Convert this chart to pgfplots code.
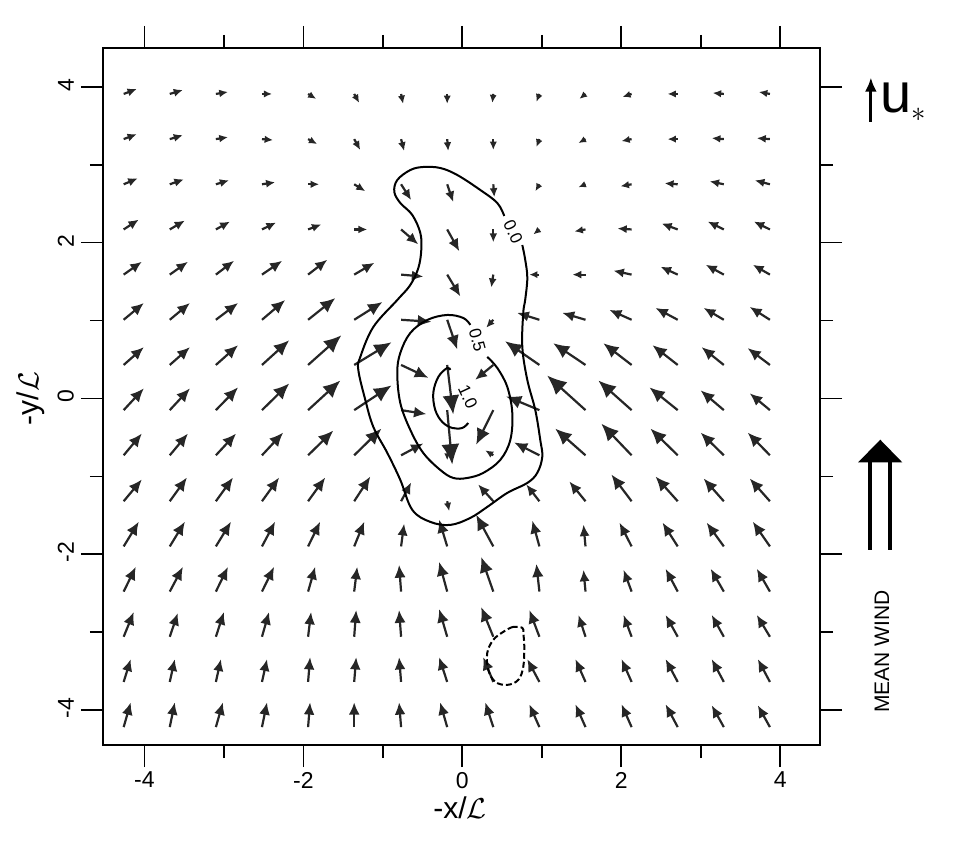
\documentclass[border=0pt]{standalone}
\usepackage{fontspec}
\setmainfont{Liberation Sans}
\usepackage{pgfplots}
\usepackage{pgfplotstable}
\pgfplotsset{compat=1.18}
\usetikzlibrary{arrows.meta}

\pgfplotstableread{
x y dx dy
-4.26 -4.22 7 25
-3.68 -4.22 5 25
-3.10 -4.22 7 25
-2.52 -4.22 5 25
-1.94 -4.22 2 25
-1.36 -4.22 0 25
-0.77 -4.22 -2 25
-0.19 -4.22 -7 25
0.39 -4.22 -8 25
0.97 -4.22 -10 23
1.55 -4.22 -10 23
2.13 -4.22 -10 23
2.71 -4.22 -12 23
3.29 -4.22 -12 22
3.87 -4.22 -12 22
-4.26 -3.64 7 23
-3.68 -3.64 5 23
-3.10 -3.64 5 23
-2.52 -3.64 5 23
-1.94 -3.64 2 25
-1.36 -3.64 2 25
-0.77 -3.64 -2 25
-0.19 -3.64 -8 25
0.39 -3.64 -10 25
0.97 -3.64 -12 23
1.55 -3.64 -10 23
2.13 -3.64 -10 23
2.71 -3.64 -12 23
3.29 -3.64 -12 23
3.87 -3.64 -12 23
-4.26 -3.06 10 25
-3.68 -3.06 8 24
-3.10 -3.06 8 25
-2.52 -3.06 7 25
-1.94 -3.06 3 25
-1.36 -3.06 2 27
-0.77 -3.06 -2 27
-0.19 -3.06 -8 28
0.39 -3.06 -12 30
0.97 -3.06 -10 27
1.55 -3.06 -7 22
2.13 -3.06 -8 22
2.71 -3.06 -12 22
3.29 -3.06 -12 22
3.87 -3.06 -13 22
-4.26 -2.48 12 25
-3.68 -2.48 13 25
-3.10 -2.48 12 25
-2.52 -2.48 12 25
-1.94 -2.48 7 25
-1.36 -2.48 3 25
-0.77 -2.48 -2 27
-0.19 -2.48 -8 30
0.39 -2.48 -12 35
0.97 -2.48 -3 28
1.55 -2.48 -2 22
2.13 -2.48 -8 22
2.71 -2.48 -12 23
3.29 -2.48 -13 23
3.87 -2.48 -13 23
-4.26 -1.90 15 25
-3.68 -1.90 15 25
-3.10 -1.90 15 25
-2.52 -1.90 13 25
-1.94 -1.90 12 25
-1.36 -1.90 10 25
-0.77 -1.90 3 23
-0.19 -1.90 -8 27
0.39 -1.90 -17 32
0.97 -1.90 -7 26
1.55 -1.90 -2 22
2.13 -1.90 -12 24
2.71 -1.90 -15 24
3.29 -1.90 -17 24
3.87 -1.90 -17 25
-4.26 -1.32 18 22
-3.68 -1.32 17 24
-3.10 -1.32 17 24
-2.52 -1.32 17 24
-1.94 -1.32 17 24
-1.36 -1.32 16 25
-0.77 -1.32 10 19
-0.19 -1.32 2 -10
0.39 -1.32 -15 17
0.97 -1.32 -13 17
1.55 -1.32 -16 20
2.13 -1.32 -20 27
2.71 -1.32 -22 25
3.29 -1.32 -20 23
3.87 -1.32 -20 23
-4.26 -0.73 18 22
-3.68 -0.73 18 22
-3.10 -0.73 20 22
-2.52 -0.73 21 23
-1.94 -0.73 25 25
-1.36 -0.73 27 27
-0.77 -0.73 22 12
-0.19 -0.73 0 -5
0.39 -0.73 -8 5
0.97 -0.73 -25 13
1.55 -0.73 -30 27
2.13 -0.73 -30 32
2.71 -0.73 -27 27
3.29 -0.73 -23 23
3.87 -0.73 -22 23
-4.26 -0.15 20 22
-3.68 -0.15 20 22
-3.10 -0.15 22 23
-2.52 -0.15 27 27
-1.94 -0.15 32 30
-1.36 -0.15 37 25
-0.77 -0.15 25 -4
-0.19 -0.15 5 -55
0.39 -0.15 -17 -35
0.97 -0.15 -33 14
1.55 -0.15 -38 35
2.13 -0.15 -33 30
2.71 -0.15 -28 23
3.29 -0.15 -23 20
3.87 -0.15 -20 17
-4.26 0.43 20 18
-3.68 0.43 20 18
-3.10 0.43 22 20
-2.52 0.43 27 25
-1.94 0.43 33 30
-1.36 0.43 37 23
-0.77 0.43 27 -13
-0.19 0.43 6 -50
0.39 0.43 -18 -15
0.97 0.43 -34 24
1.55 0.43 -32 22
2.13 0.43 -28 22
2.71 0.43 -25 20
3.29 0.43 -22 18
3.87 0.43 -22 17
-4.26 1.01 20 17
-3.68 1.01 20 17
-3.10 1.01 22 17
-2.52 1.01 23 20
-1.94 1.01 27 22
-1.36 1.01 28 18
-0.77 1.01 30 -2
-0.19 1.01 10 -30
0.39 1.01 -7 -8
0.97 1.01 -22 7
1.55 1.01 -23 7
2.13 1.01 -22 10
2.71 1.01 -22 12
3.29 1.01 -20 12
3.87 1.01 -20 13
-4.26 1.59 18 13
-3.68 1.59 18 13
-3.10 1.59 18 14
-2.52 1.59 20 14
-1.94 1.59 19 15
-1.36 1.59 20 12
-0.77 1.59 22 -2
-0.19 1.59 13 -22
0.39 1.59 -2 -13
0.97 1.59 -10 0
1.55 1.59 -13 0
2.13 1.59 -18 4
2.71 1.59 -17 8
3.29 1.59 -18 10
3.87 1.59 -17 10
-4.26 2.17 15 10
-3.68 2.17 15 9
-3.10 2.17 14 8
-2.52 2.17 14 7
-1.94 2.17 13 5
-1.36 2.17 13 0
-0.77 2.17 17 -15
-0.19 2.17 12 -22
0.39 2.17 0 -13
0.97 2.17 -6 -5
1.55 2.17 -11 -2
2.13 2.17 -14 1
2.71 2.17 -16 6
3.29 2.17 -16 8
3.87 2.17 -16 8
-4.26 2.75 14 6
-3.68 2.75 14 5
-3.10 2.75 13 4
-2.52 2.75 13 2
-1.94 2.75 11 0
-1.36 2.75 11 -7
-0.77 2.75 10 -16
-0.19 2.75 6 -18
0.39 2.75 1 -13
0.97 2.75 -4 -7
1.55 2.75 -7 -3
2.13 2.75 -11 -2
2.71 2.75 -13 1
3.29 2.75 -14 3
3.87 2.75 -15 4
-4.26 3.33 13 5
-3.68 3.33 13 4
-3.10 3.33 12 2
-2.52 3.33 11 -1
-1.94 3.33 9 -5
-1.36 3.33 6 -11
-0.77 3.33 3 -12
-0.19 3.33 1 -12
0.39 3.33 0 -11
0.97 3.33 -3 -8
1.55 3.33 -7 -4
2.13 3.33 -10 -2
2.71 3.33 -10 0
3.29 3.33 -12 1
3.87 3.33 -13 1
-4.26 3.91 13 5
-3.68 3.91 13 4
-3.10 3.91 12 2
-2.52 3.91 10 0
-1.94 3.91 8 -5
-1.36 3.91 5 -9
-0.77 3.91 2 -10
-0.19 3.91 0 -10
0.39 3.91 -1 -9
0.97 3.91 -3 -8
1.55 3.91 -6 -5
2.13 3.91 -9 -3
2.71 3.91 -10 0
3.29 3.91 -11 1
3.87 3.91 -11 2
}\vecdata

\begin{document}
\begin{tikzpicture}
\path[use as bounding box] (-51.5pt,-51pt) rectangle (432pt,372.5pt);
\begin{axis}[
  at={(0,0)}, anchor=south west,
  scale only axis, width=358.5pt, height=348.5pt,
  xmin=-4.52, xmax=4.50, ymin=-4.45, ymax=4.50,
  xtick={-4,-2,0,2,4}, ytick={-4,-2,0,2,4},
  minor xtick={-3,-1,1,3}, minor ytick={-3,-1,1,3},
  tick align=outside, major tick length=11pt, minor tick length=6.5pt,
  tick style={black, line width=0.8pt},
  axis line style={line width=1.3pt},
  /pgf/number format/assume math mode=true,
  ticklabel style={font=\fontsize{11.5}{13}\selectfont},
  xticklabel style={yshift=1pt},
  yticklabel style={rotate=90, anchor=south, xshift=1pt},
  clip=false,
]
\addplot[black!85, line width=1.1pt,
  point meta={sqrt((\thisrow{dx})^2+(\thisrow{dy})^2)},
  quiver={u=\thisrow{dx}, v=\thisrow{dy}, scale arrows=0.0127,
    every arrow/.append style={-{Latex[length=9pt,width=8pt,
      scale length={0.38+0.75*\pgfplotspointmetatransformed/1000},
      scale width={0.38+0.75*\pgfplotspointmetatransformed/1000}]}}}]
  table[x=x, y=y] {\vecdata};

% contour 0.0 (outer)
\addplot[black, line width=1pt, smooth, tension=0.6] coordinates {
(0.755,1.970) (0.792,1.778) (0.818,1.547) (0.792,1.271) (0.767,1.098)
(0.755,0.661) (0.818,0.237) (0.918,-0.148) (0.981,-0.533) (1.006,-0.751)
(0.943,-0.956) (0.818,-1.085) (0.566,-1.213) (0.314,-1.393) (0.101,-1.534)
(-0.151,-1.624) (-0.403,-1.585) (-0.629,-1.431) (-0.780,-1.046) (-0.943,-0.700)
(-1.119,-0.366) (-1.220,-0.019) (-1.308,0.366) (-1.283,0.533) (-1.119,0.918)
(-0.818,1.264) (-0.654,1.457) (-0.553,1.675) (-0.516,1.906) (-0.528,2.125)
(-0.629,2.356) (-0.780,2.510) (-0.855,2.651) (-0.818,2.805) (-0.654,2.933)
(-0.491,2.972) (-0.277,2.959) (-0.063,2.869) (0.226,2.677) (0.440,2.510)
(0.528,2.343)
};
% contour 0.5
\addplot[black, line width=1pt, smooth, tension=0.6] coordinates {
(0.314,0.533) (0.440,0.392) (0.566,0.148) (0.629,-0.186) (0.604,-0.533)
(0.478,-0.789) (0.264,-0.956) (0.063,-1.021) (-0.113,-1.021) (-0.277,-0.918)
(-0.491,-0.700) (-0.654,-0.404) (-0.780,-0.058) (-0.818,0.327) (-0.780,0.584)
(-0.654,0.841) (-0.440,1.008) (-0.189,1.072) (0.013,1.033) (0.101,0.944)
};
% contour 1.0
\addplot[black, line width=1pt, smooth, tension=0.6] coordinates {
(-0.151,0.366) (-0.189,0.392) (-0.302,0.276) (-0.365,0.071) (-0.340,-0.148)
(-0.252,-0.302) (-0.126,-0.379) (0.000,-0.379) (0.075,-0.315)
};
% negative contour (dashed)
\addplot[black, line width=1pt, dash pattern=on 3pt off 1.5pt, smooth cycle, tension=0.6] coordinates {
(0.755,-2.946) (0.642,-2.933) (0.516,-2.997) (0.390,-3.100) (0.314,-3.267)
(0.327,-3.485) (0.415,-3.639) (0.566,-3.678) (0.704,-3.614) (0.767,-3.447)
(0.780,-3.190) (0.767,-3.010)
};

\node[font=\fontsize{8.5}{9}\selectfont, rotate=-65, inner sep=0pt] at (axis cs:0.64,2.14) {0.0};
\node[font=\fontsize{8.5}{9}\selectfont, rotate=-75, inner sep=0pt] at (axis cs:0.19,0.75) {0.5};
\node[font=\fontsize{8.5}{9}\selectfont, rotate=-65, inner sep=0pt] at (axis cs:0.07,0.02) {1.0};

% annotations
\draw[black, line width=1.5pt, -{Latex[length=7pt,width=6pt]}] (axis cs:5.14,3.55) -- (axis cs:5.14,4.12);
\node[anchor=west, font=\fontsize{28}{30}\selectfont, inner sep=0pt] at (axis cs:5.26,3.80) {u\raisebox{-0.3ex}{\fontsize{14}{14}\selectfont$\ast$}};
\draw[black, line width=1.8pt] (axis cs:5.13,-1.945) -- (axis cs:5.13,-0.78);
\draw[black, line width=1.8pt] (axis cs:5.38,-1.945) -- (axis cs:5.38,-0.78);
\fill[black] (axis cs:4.98,-0.82) -- (axis cs:5.258,-0.53) -- (axis cs:5.535,-0.82) -- cycle;
\node[rotate=90, font=\fontsize{10.5}{12}\selectfont] at (axis cs:5.28,-3.25) {MEAN WIND};

\node[font=\fontsize{15}{17}\selectfont] at (axis cs:-0.03,-5.25) {-x/$\mathcal{L}$};
\node[rotate=90, font=\fontsize{15}{17}\selectfont] at (axis cs:-5.43,0) {-y/$\mathcal{L}$};
\end{axis}
\end{tikzpicture}
\end{document}
